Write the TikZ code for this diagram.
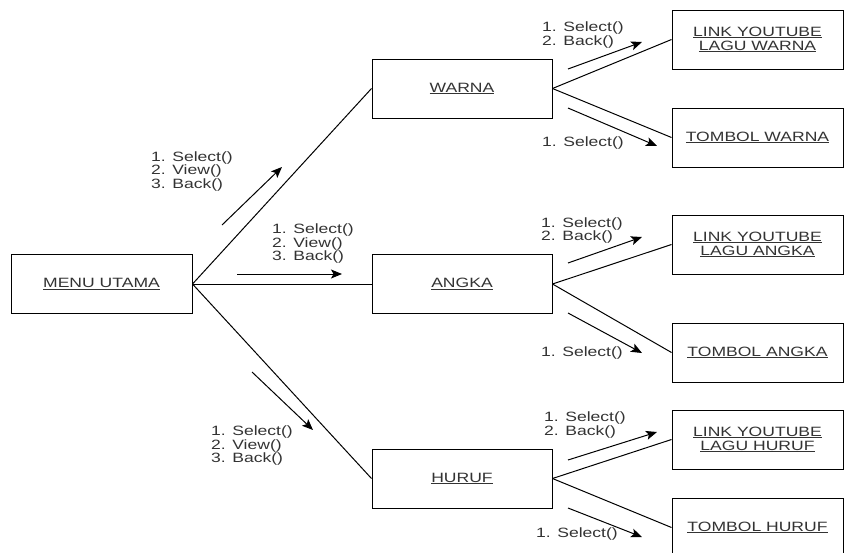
\documentclass[tikz,border=0pt]{standalone}
\usepackage{fontspec}
\setmainfont[FakeStretch=1.3]{Liberation Sans}
\usetikzlibrary{arrows.meta}
\definecolor{txt}{HTML}{333333}
\begin{document}
\begin{tikzpicture}[x=1pt,y=-1pt,
 box/.style={draw=black, line width=1pt, minimum height=59pt, inner sep=0pt, text=txt, font=\fontsize{13.5}{14}\selectfont, align=center},
 midbox/.style={box, minimum width=180pt},
 rbox/.style={box, minimum width=171pt},
 conn/.style={line width=1pt},
 msg/.style={line width=1pt, -{Stealth[length=11pt,width=9pt,inset=2.5pt]}},
 lbl/.style={text=txt, font=\fontsize{13.5}{13.5}\selectfont, align=left, anchor=west, inner sep=0pt}]
\useasboundingbox (0,0) rectangle (844,552);
% boxes
\node[box, minimum width=181pt] (menu) at (101.5,284) {\underline{MENU UTAMA}};
\node[midbox] (warna) at (462,88.5) {\underline{WARNA}};
\node[midbox] (angka) at (462,284) {\underline{ANGKA}};
\node[midbox] (huruf) at (462,478.5) {\underline{HURUF}};
\node[rbox] (linkw) at (757.5,39.5) {\underline{LINK YOUTUBE}\\\underline{LAGU WARNA}};
\node[rbox] (tombw) at (757.5,137.5) {\underline{TOMBOL WARNA}};
\node[rbox] (linka) at (757.5,244.5) {\underline{LINK YOUTUBE}\\\underline{LAGU ANGKA}};
\node[rbox] (tomba) at (757.5,352.5) {\underline{TOMBOL ANGKA}};
\node[rbox] (linkh) at (757.5,439.5) {\underline{LINK YOUTUBE}\\\underline{LAGU HURUF}};
\node[rbox] (tombh) at (757.5,527.5) {\underline{TOMBOL HURUF}};
% connectors
\draw[conn] (menu.east) -- (warna.west);
\draw[conn] (menu.east) -- (angka.west);
\draw[conn] (menu.east) -- (huruf.west);
\draw[conn] (warna.east) -- (linkw.west);
\draw[conn] (warna.east) -- (tombw.west);
\draw[conn] (angka.east) -- (linka.west);
\draw[conn] (angka.east) -- (tomba.west);
\draw[conn] (huruf.east) -- (linkh.west);
\draw[conn] (huruf.east) -- (tombh.west);
% message arrows
\coordinate (a1s) at (222,225); \coordinate (a1e) at (282,167);
\coordinate (a2s) at (237,274); \coordinate (a2e) at (342,274);
\coordinate (a3s) at (252,372); \coordinate (a3e) at (313,430);
\coordinate (b1s) at (568,69); \coordinate (b1e) at (642,42);
\coordinate (b2s) at (568,108); \coordinate (b2e) at (657,146);
\coordinate (c1s) at (568,263); \coordinate (c1e) at (642,237);
\coordinate (c2s) at (568,313); \coordinate (c2e) at (642,353);
\coordinate (d1s) at (568,460); \coordinate (d1e) at (657,432);
\coordinate (d2s) at (568,508); \coordinate (d2e) at (642,537);
\draw[msg] (a1s) -- (a1e);
\draw[msg] (a2s) -- (a2e);
\draw[msg] (a3s) -- (a3e);
\draw[msg] (b1s) -- (b1e);
\draw[msg] (b2s) -- (b2e);
\draw[msg] (c1s) -- (c1e);
\draw[msg] (c2s) -- (c2e);
\draw[msg] (d1s) -- (d1e);
\draw[msg] (d2s) -- (d2e);
% labels
\node[lbl] (la1) at (151,171.5) {1. Select()\\2. View()\\3. Back()};
\node[lbl] (la2) at (272,244) {1. Select()\\2. View()\\3. Back()};
\node[lbl] (la3) at (211,445.5) {1. Select()\\2. View()\\3. Back()};
\node[lbl] (lb1) at (542,35) {1. Select()\\2. Back()};
\node[lbl] (lb2) at (542,143) {1. Select()};
\node[lbl] (lc1) at (541,230.5) {1. Select()\\2. Back()};
\node[lbl] (lc2) at (541,353) {1. Select()};
\node[lbl] (ld1) at (544,425) {1. Select()\\2. Back()};
\node[lbl] (ld2) at (536,534) {1. Select()};
\end{tikzpicture}
\end{document}
